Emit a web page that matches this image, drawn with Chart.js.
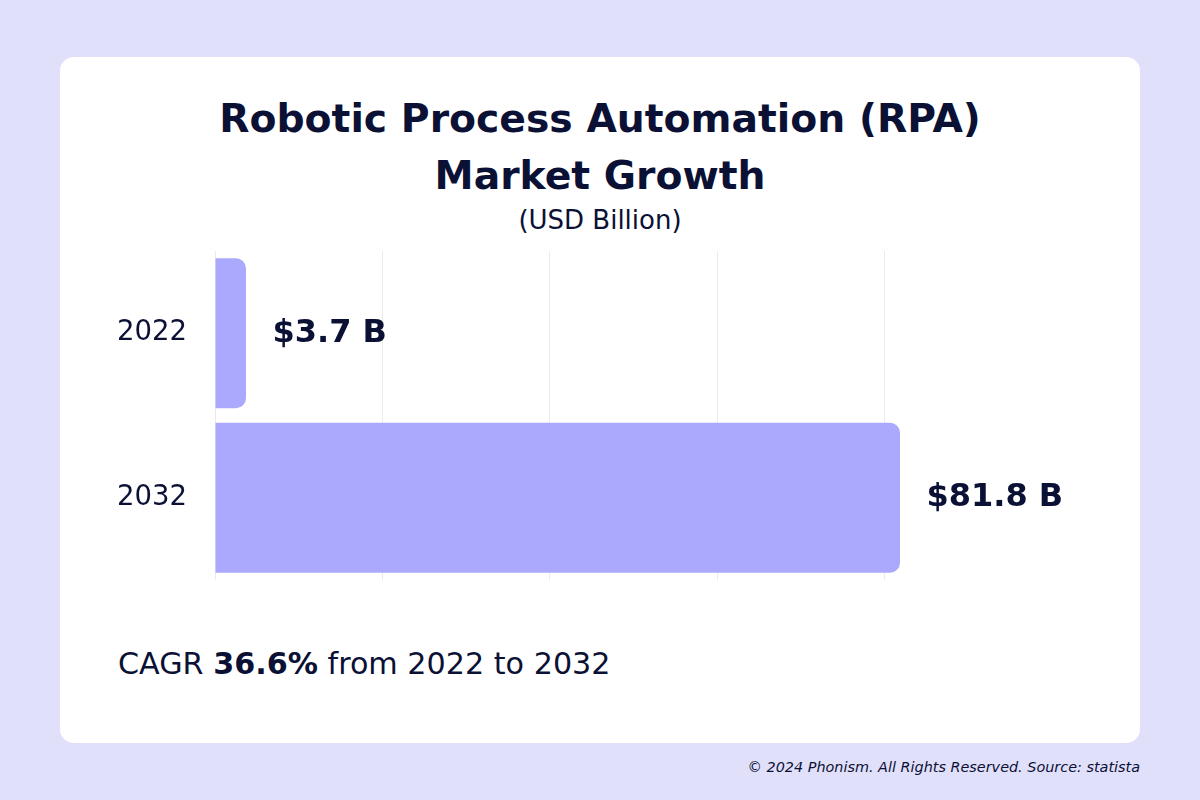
<!DOCTYPE html>
<html>
<head>
<meta charset="utf-8">
<script src="https://cdn.jsdelivr.net/npm/chart.js@4"></script>
<style>
  html, body { margin:0; padding:0; }
  body { width:1200px; height:800px; background:#e1e0fb; position:relative; overflow:hidden;
         font-family:"DejaVu Sans", sans-serif; color:#0b1035; }
  #card { position:absolute; left:60px; top:57px; width:1080px; height:686px; background:#ffffff; border-radius:14px; }
  #title { position:absolute; left:0; top:90px; width:1200px; text-align:center; font-weight:bold; font-size:39.3px; line-height:57px; }
  #sub { position:absolute; left:0; top:205px; width:1200px; text-align:center; font-size:26px; }
  #cagr { position:absolute; left:118px; top:646px; font-size:30.2px; }
  #foot { position:absolute; right:60px; top:759px; font-size:14.4px; font-style:italic; }
  #c { position:absolute; left:60px; top:250px; width:1080px; height:340px; }
</style>
</head>
<body>
<div id="card"></div>
<div id="title">Robotic Process Automation (RPA)<br>Market Growth</div>
<div id="sub">(USD Billion)</div>
<canvas id="c" width="1080" height="340"></canvas>
<div id="cagr">CAGR <b>36.6%</b> from 2022 to 2032</div>
<div id="foot">© 2024 Phonism. All Rights Reserved. Source: statista</div>
<script>
const categories = ['2022', '2032'];
const marketValues = [3.7, 81.8];
const valueLabels = ['$3.7 B', '$81.8 B'];
const gridSteps = [0, 20, 40, 60, 80];

const textColor = '#0b1035';

const valueLabelPlugin = {
  id: 'valueLabels',
  afterDatasetsDraw(chart) {
    const ctx = chart.ctx;
    const meta = chart.getDatasetMeta(0);
    ctx.save();
    ctx.font = 'bold 32px "DejaVu Sans", sans-serif';
    ctx.fillStyle = textColor;
    ctx.textBaseline = 'middle';
    ctx.textAlign = 'left';
    meta.data.forEach((bar, i) => {
      ctx.fillText(valueLabels[i], bar.x + 26.5, bar.y);
    });
    ctx.restore();
  }
};

new Chart(document.getElementById('c'), {
  type: 'bar',
  data: {
    labels: categories,
    datasets: [{
      data: marketValues,
      backgroundColor: '#aaa9fd',
      borderSkipped: false,
      borderRadius: { topLeft: 0, bottomLeft: 0, topRight: 10, bottomRight: 10 },
      barPercentage: 0.912,
      categoryPercentage: 1.0
    }]
  },
  options: {
    indexAxis: 'y',
    responsive: false,
    maintainAspectRatio: false,
    devicePixelRatio: 1,
    animation: false,
    layout: { padding: { left: 0, right: 240, top: 1, bottom: 10 } },
    plugins: { legend: { display: false }, tooltip: { enabled: false } },
    scales: {
      x: {
        min: 0,
        max: 81.8,
        ticks: { display: false },
        afterBuildTicks(scale) { scale.ticks = gridSteps.map(v => ({ value: v })); },
        afterFit(scale) { scale.height = 0; scale.paddingLeft = 0; scale.paddingRight = 0; },
        border: { display: false },
        grid: {
          drawTicks: false,
          color: '#ebebeb',
          lineWidth: 1
        }
      },
      y: {
        border: { display: false },
        grid: { display: false },
        ticks: {
          color: textColor,
          font: { family: '"DejaVu Sans", sans-serif', size: 27.5 },
          padding: 20
        },
        afterFit(scale) { scale.width = 155; scale.paddingTop = 0; scale.paddingBottom = 0; }
      }
    }
  },
  plugins: [valueLabelPlugin]
});
</script>
</body>
</html>
